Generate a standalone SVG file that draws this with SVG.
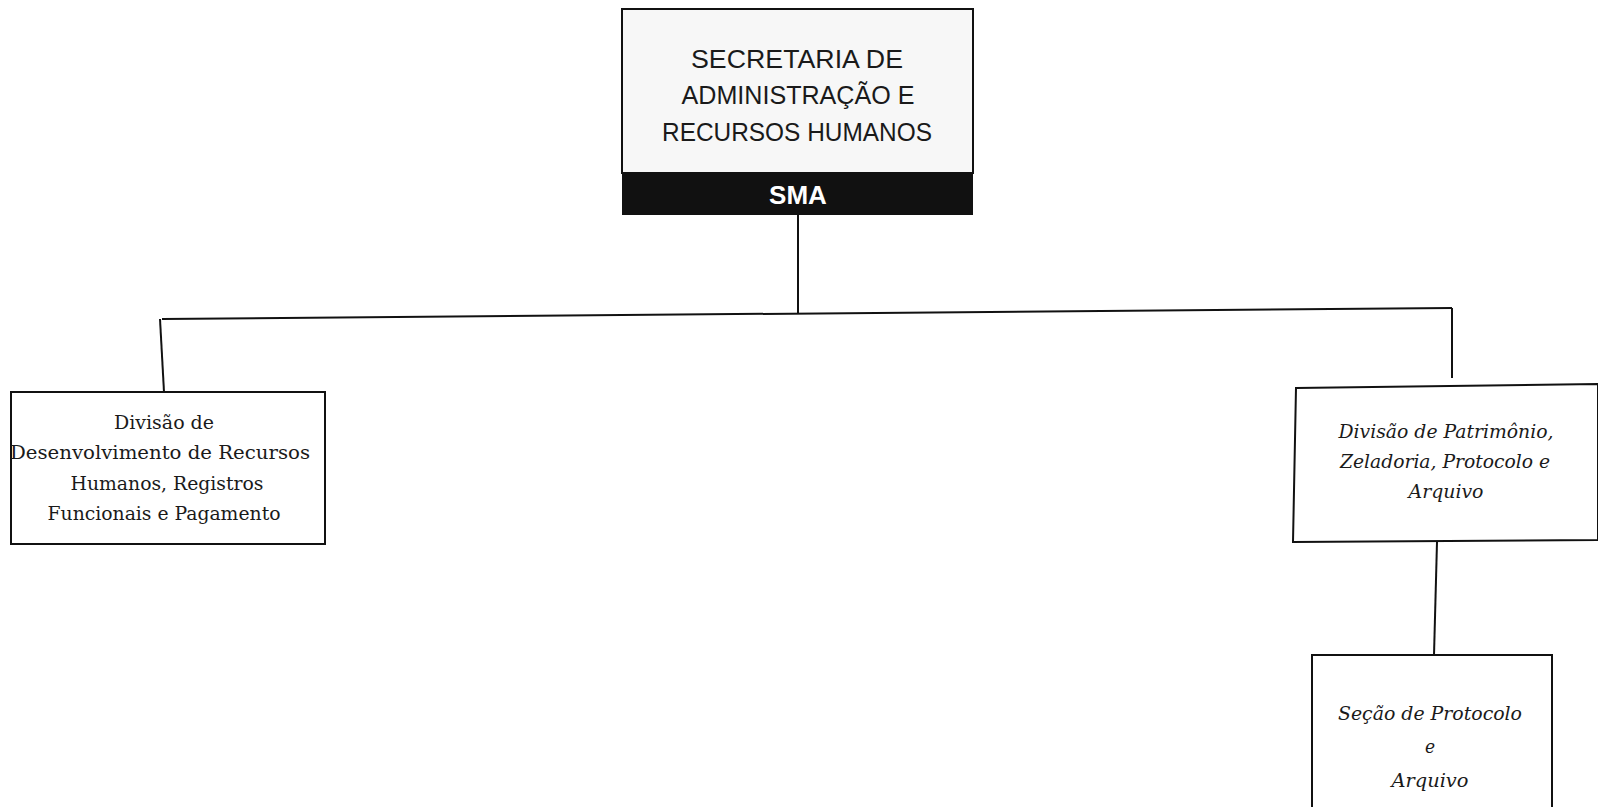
<svg xmlns="http://www.w3.org/2000/svg" width="1598" height="807" viewBox="0 0 1598 807">
<style>
.box{fill:#ffffff;stroke:#111;stroke-width:2}
.line{fill:none;stroke:#111;stroke-width:2}
.ttl{font-family:"Liberation Sans",Arial,sans-serif;font-size:26px;fill:#1a1a1a;text-anchor:middle}
.sma{font-family:"Liberation Sans",Arial,sans-serif;font-size:26px;font-weight:bold;fill:#ffffff;text-anchor:middle}
.up{font-family:"DejaVu Serif Condensed","DejaVu Serif",serif;font-size:19px;fill:#1a1a1a;text-anchor:middle}
.it{font-family:"DejaVu Serif Condensed","DejaVu Serif",serif;font-size:19px;font-style:italic;fill:#1a1a1a;text-anchor:middle}
</style>
<rect x="0" y="0" width="1598" height="807" fill="#ffffff"/>
<g id="connectors">
<polyline class="line" points="798,215 798,313"/>
<polyline class="line" points="162,319 1452,308"/>
<polyline class="line" points="160,319 164,392"/>
<polyline class="line" points="1452,308 1452,378"/>
<polyline class="line" points="1437,542 1434,655"/>
</g>
<g id="sma">
<rect x="622" y="9" width="351" height="164" fill="#f7f7f7" stroke="#111" stroke-width="2"/>
<rect x="622" y="173" width="351" height="42" fill="#111"/>
<text class="ttl" x="797" y="68" textLength="212" lengthAdjust="spacingAndGlyphs">SECRETARIA DE</text>
<text class="ttl" x="798" y="104" textLength="233" lengthAdjust="spacingAndGlyphs">ADMINISTRAÇÃO E</text>
<text class="ttl" x="797" y="141" textLength="270" lengthAdjust="spacingAndGlyphs">RECURSOS HUMANOS</text>
<text class="sma" x="798" y="204">SMA</text>
</g>
<g id="div-rh">
<rect class="box" x="11" y="392" width="314" height="152"/>
<text class="up" x="164" y="429" textLength="100" lengthAdjust="spacingAndGlyphs">Divisão de</text>
<text class="up" x="160" y="459" textLength="300" lengthAdjust="spacingAndGlyphs">Desenvolvimento de Recursos</text>
<text class="up" x="167" y="490" textLength="193" lengthAdjust="spacingAndGlyphs">Humanos, Registros</text>
<text class="up" x="164" y="520" textLength="233" lengthAdjust="spacingAndGlyphs">Funcionais e Pagamento</text>
</g>
<g id="div-patrimonio">
<polygon class="box" points="1296,388 1598,384 1598,540 1293,542"/>
<text class="it" x="1446" y="438" textLength="215" lengthAdjust="spacingAndGlyphs">Divisão de Patrimônio,</text>
<text class="it" x="1445" y="468" textLength="210" lengthAdjust="spacingAndGlyphs">Zeladoria, Protocolo e</text>
<text class="it" x="1446" y="498" textLength="75" lengthAdjust="spacingAndGlyphs">Arquivo</text>
</g>
<g id="secao-protocolo">
<rect class="box" x="1312" y="655" width="240" height="170"/>
<text class="it" x="1430" y="720" textLength="184" lengthAdjust="spacingAndGlyphs">Seção de Protocolo</text>
<text class="it" x="1430" y="753">e</text>
<text class="it" x="1430" y="787" textLength="77" lengthAdjust="spacingAndGlyphs">Arquivo</text>
</g>
</svg>
